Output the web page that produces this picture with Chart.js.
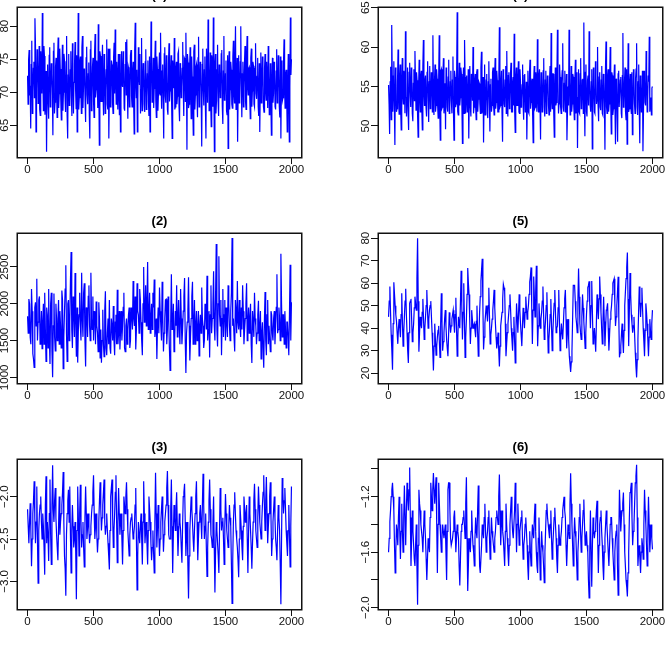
<!DOCTYPE html>
<html>
<head>
<meta charset="utf-8">
<script src="https://cdn.jsdelivr.net/npm/chart.js@4.4.1/dist/chart.umd.min.js"></script>
<style>
  html, body { margin: 0; padding: 0; background: #fff; width: 670px; height: 653px; overflow: hidden; position: relative; }
  canvas { position: absolute; }
</style>
</head>
<body>
<canvas id="c1" width="340" height="226"></canvas>
<canvas id="c2" width="340" height="226"></canvas>
<canvas id="c3" width="340" height="226"></canvas>
<canvas id="c4" width="340" height="226"></canvas>
<canvas id="c5" width="340" height="226"></canvas>
<canvas id="c6" width="340" height="226"></canvas>
<script>
// ---------------- DATA ----------------
const titles = ['(1)', '(2)', '(3)', '(4)', '(5)', '(6)'];
const xTicks = [0, 500, 1000, 1500, 2000];

// (1) — values read at iterations 0, 8, 16, ... 2000
const series1 = [
72.5,75,69.5,64.5,77.8,70.2,74.6,81.2,64,76.5,
68.3,77,66.5,73.8,82,67.2,75.5,69,61,74.2,
66,76.8,70.5,72.8,63.5,77.5,68.5,75.2,66.2,78.3,
69.8,73.5,65.8,77.2,70,74.8,67,78.5,63,75.8,
68.8,76.2,66.4,73.2,71.5,77.6,67.5,64,82,69.2,
75.4,66.8,78.5,70.8,72.6,65.5,76.9,68.2,74.5,63,
77.8,69.5,75.2,66.2,78.8,70.4,73.6,80.3,62,75.5,
68.6,77.2,66.5,74.4,70.2,78,67.4,63,76.6,69.8,
74.2,66.8,77.5,79.5,68.2,72.4,75.8,66.6,64,76.2,
70.8,74,67.2,77.6,78,66,73.4,70.5,76.4,67.8,
74.6,63.7,80.5,69.2,64,76.8,71.2,66.8,78.2,70,
73.6,67,76.5,69.4,74.8,66.4,64,80.7,68.5,75.2,
70.6,77.8,66.2,73.5,69.8,76,79,67.5,74.2,63,
76.8,68.4,73,66.6,77.4,70.2,75.6,63,72.8,78.2,
67.8,74.6,69.4,76.2,65.6,73.8,70.8,77.6,66.4,75,
79,61.3,74.5,68.2,76.8,66,72.4,63.5,77.2,69.6,
74.2,66.2,78.4,70.5,73.2,61.8,76.6,68,75.4,63,
72.6,81,67.2,76,64.8,74.4,81.3,61,75.8,68.8,
77.2,66.4,73.6,70,76.4,65.2,78.5,69.4,74.8,66.6,
61.5,76.2,70.4,73.4,67.6,77.8,68.4,80,72.2,62.5,
75.6,69,80,66.2,74.6,70.6,77,67.4,78.5,69.6,
73.8,66,76.6,70.2,74,67.8,77.4,69,75.2,66.4,
64,76,70.6,73.2,67,75.8,68.8,72.4,77,66.6,
74.4,63.5,75.2,69.8,72.8,67.4,76.5,70,73.6,66.2,
63,74.8,69.2,78,67.6,73.4,64,75.8,62.5,81.3,
75
];
// (1) — values read at iterations 4, 12, 20, ... 1996
const series1b = [
68.2,76.4,71,74.2,66.8,73.6,69.2,77.2,70.4,74.8,
71.6,67.4,76.2,69.8,72.4,77,66.6,73.2,70.6,68.4,
75.6,67.8,74.4,69.6,76.2,66.8,73.8,70.2,75.4,67.6,
76.6,68.8,72.2,67.2,75.8,69.4,74.6,66.4,72.6,68,
73.4,69.2,77.4,66.8,74.2,70.4,75.6,71.8,67.4,74.6,
70.2,76.8,67.6,73.6,68.8,75.2,69.6,72.8,66.6,76.4,
67.2,73.8,68.6,76,69.2,74.8,67.6,70.8,76.2,68.6,
74.2,69.6,75.8,66.8,73.4,68.2,76.6,70.2,67.8,74.8,
68.4,75.2,69.8,71.8,74.6,67.4,70.6,75.8,68.8,71.4,
76.2,67.6,74.2,69.6,71.2,73.8,67.8,75.6,69.4,73.2,
68.6,76.4,71.2,73.4,68.8,72.6,75.8,70.4,67.2,74.4,
68.2,74.6,67.4,72.8,68.6,75.4,70.2,73.6,71.8,67.6,
74.2,68.8,75.4,67.2,73.8,69.6,71.4,73.2,68.6,75.8,
69.4,75.6,67.4,74.4,68.6,73.2,68.2,74.8,70.6,67.4,
73.6,68.2,75.8,67.8,74.4,69.2,73.6,70.4,75.2,68.6,
72.6,75.8,67.6,73.4,70.2,75.4,68.2,76.2,67.4,73.8,
69.4,75.2,67.8,74.6,68.8,74.2,70.2,73.4,67.6,76.6,
68.4,74.8,70.6,68.4,75.6,67.8,70.6,74.2,66.8,73.4,
68.6,74.2,69.2,75.8,67.8,73.2,68.8,72.8,67.2,75.6,
73.8,67.4,74.6,68.2,75.4,69.8,74.2,67.4,75.2,69.6,
68.4,74.6,71.2,72.8,67.8,74.4,68.6,75.2,70.8,73.6,
69.4,75.2,67.8,74.6,68.2,73.6,69.8,72.4,67.8,74.4,
70.8,68.4,75.4,67.8,73.6,70.2,74.6,67.6,72.4,70.6,
68.8,71.6,68.4,74.6,67.8,73.2,68.4,75.6,67.8,75.4,
72.2,68.8,74.6,70.6,72.8,69.4,71.2,68.8,70.8,72.6
];

// (2) — values read at iterations 0, 10, 20, ... 2000
const series2 = [
1830,2065,1544,2200,1322,1136,2020,2341,1750,2100,
1600,1390,2000,2150,1217,1850,2200,1181,2150,1000,
2140,1360,1780,1800,1450,1700,2180,1118,1900,2523,
1217,2050,1750,2704,1400,1900,2418,1280,1200,1850,
1700,2420,1550,2280,1149,1900,2100,1700,2420,1650,
1500,1850,2030,1610,2020,1263,1200,1920,1280,2170,
1300,1800,2050,1320,1700,1970,1300,1850,2190,1600,
1380,1900,1700,2150,1350,1800,1650,1950,1500,1850,
2310,1700,1380,2280,1850,2200,1750,1300,2500,1900,
1700,2568,1850,1600,2000,2150,2330,1650,1250,1950,
2220,1700,2300,1350,1800,2060,1650,1800,1095,2400,
1700,1350,1900,2250,1800,1650,2200,1450,1900,2350,
1059,1750,2360,1230,1800,2300,1700,1450,1900,1650,
1290,1850,2220,1700,1500,1900,2380,1650,1270,2250,
1800,2441,1500,2813,1420,2645,1700,1300,2200,1850,
1500,1750,2250,1700,1900,2894,1800,1350,1900,2310,
1650,1700,1950,2250,1450,1800,2280,1750,1600,2000,
1195,1750,2150,1700,1600,2040,1650,1250,1750,1130,
2160,1300,2050,1700,1350,1850,1500,1900,1700,2400,
1650,1800,2681,1550,1850,1900,1400,1750,1300,2530,
2020
];
// (2) — values read at iterations 5, 15, ... 1995
const series2b = [
1600,2000,1450,1900,1250,1950,1700,1500,2050,1450,
1900,1750,1450,1650,1950,1400,1550,2000,1350,1700,
1550,2000,1500,2050,1900,1400,2050,1550,2200,1600,
2000,1500,2300,1650,2100,1550,1750,1950,1650,2150,
1500,1800,2150,1500,1950,1550,2250,1500,1800,2100,
1900,1450,1700,1350,1800,1650,1500,1450,1900,1400,
1600,1450,1400,1800,1500,1500,1750,1450,1450,1900,
1650,1500,1950,1400,1700,1450,1850,1400,1950,1650,
1800,2100,1650,1900,1600,2050,1500,2000,1750,2250,
2000,1650,2150,1800,1650,1950,1550,1800,1700,1600,
1900,1500,1800,1600,2050,1450,2100,1400,1750,1650,
2000,1500,1700,1550,2050,1450,1800,1650,2100,1500,
1600,1900,1700,1550,2100,1450,2050,1700,1500,1900,
1700,1600,1800,1400,2000,1650,1500,1900,1850,1600,
2000,1700,2100,1650,2000,1850,2050,1800,1550,2050,
1950,1550,2000,1500,2150,1700,1550,2050,1600,1750,
2050,1550,1650,1900,1650,2000,1500,1950,1800,1450,
1900,1550,1800,1450,1850,1500,1900,1600,1400,1750,
1500,1850,1450,1700,1900,1600,1800,1450,1950,1600,
1950,1500,2000,1850,1450,1650,1750,1550,1850,1500
];

// (3) — values read at iterations 0, 10, ... 2000
const series3 = [
-2.15,-2.55,-2.08,-2.82,-2.2,-1.82,-2.55,-1.88,-3.02,-2.2,
-2.0,-2.5,-2.35,-2.92,-1.76,-2.3,-2.76,-1.8,-2.8,-1.63,
-2.3,-1.9,-2.45,-2.75,-2.0,-2.3,-2.1,-1.71,-2.7,-3.17,
-2.2,-1.92,-1.88,-2.9,-2.1,-2.6,-2.3,-3.21,-1.88,-2.7,
-1.86,-2.6,-2.3,-2.83,-1.88,-2.5,-2.2,-2.55,-2.35,-2.1,
-1.75,-2.5,-2.2,-2.66,-2.3,-1.83,-2.4,-2.1,-1.8,-2.45,
-2.2,-2.55,-2.86,-2.0,-1.8,-2.6,-2.2,-1.75,-2.78,-1.9,
-2.45,-2.2,-2.8,-2.0,-2.2,-1.83,-2.4,-2.7,-2.3,-2.2,
-2.5,-2.35,-1.9,-3.1,-2.3,-2.55,-2.2,-2.8,-1.82,-2.55,
-2.3,-2.8,-2.0,-2.3,-2.75,-2.4,-2.9,-1.72,-2.6,-2.1,
-2.7,-2.3,-2.0,-2.65,-2.3,-2.1,-1.7,-2.45,-2.5,-1.8,
-2.9,-2.1,-2.4,-1.95,-2.7,-2.2,-2.4,-2.78,-2.0,-1.85,
-2.7,-2.3,-3.2,-2.4,-2.0,-2.3,-2.65,-2.2,-1.82,-2.75,
-2.3,-2.1,-2.5,-1.73,-2.5,-2.2,-2.94,-2.3,-1.8,-2.45,
-2.6,-2.0,-3.13,-2.3,-2.55,-2.9,-1.9,-2.4,-2.25,-2.8,
-1.97,-2.4,-2.6,-2.1,-2.35,-3.26,-2.3,-1.95,-2.4,-2.6,
-2.95,-2.1,-2.4,-2.75,-2.0,-2.3,-2.1,-2.9,-2.0,-2.4,
-2.85,-2.3,-1.85,-2.4,-2.6,-1.88,-2.3,-2.5,-2.1,-1.75,
-2.4,-1.77,-2.55,-2.2,-1.83,-2.7,-2.3,-2.0,-2.5,-2.75,
-2.1,-2.4,-3.27,-1.78,-2.2,-1.9,-2.4,-2.7,-2.1,-2.83,
-1.88
];
// (3) — values read at iterations 5, 15, ... 1995
const series3b = [
-2.35,-2.3,-2.4,-2.5,-2.05,-2.25,-2.3,-2.5,-2.4,-2.1,
-2.3,-2.2,-2.6,-2.1,-2.55,-2.45,-2.2,-2.45,-2.1,-2.15,
-2.05,-2.25,-2.6,-2.35,-2.45,-2.2,-1.95,-2.3,-2.85,-2.45,
-2.05,-2.3,-2.45,-2.4,-2.35,-2.5,-2.65,-2.4,-2.25,-2.2,
-2.3,-2.45,-2.6,-2.25,-2.2,-2.35,-2.4,-2.45,-2.2,-1.95,
-2.2,-2.35,-2.45,-2.5,-2.05,-2.15,-2.25,-1.95,-2.3,-2.35,
-2.4,-2.7,-2.4,-1.9,-2.25,-2.4,-1.95,-2.3,-2.3,-2.2,
-2.3,-2.5,-2.4,-2.1,-2.0,-2.15,-2.55,-2.45,-2.25,-2.35,
-2.45,-2.1,-2.5,-2.7,-2.45,-2.35,-2.5,-2.3,-2.2,-2.4,
-2.55,-2.4,-2.15,-2.55,-2.6,-2.65,-2.3,-2.2,-2.35,-2.45,
-2.5,-2.15,-2.35,-2.45,-2.2,-1.9,-2.1,-2.5,-2.15,-2.35,
-2.45,-2.25,-2.15,-2.35,-2.45,-2.3,-2.6,-2.35,-1.95,-2.3,
-2.45,-2.8,-2.7,-2.2,-2.15,-2.5,-2.4,-2.0,-2.3,-2.5,
-2.2,-2.3,-2.1,-2.1,-2.35,-2.6,-2.6,-2.05,-2.15,-2.5,
-2.3,-2.6,-2.65,-2.4,-2.7,-2.4,-2.15,-2.3,-2.5,-2.35,
-2.2,-2.5,-2.35,-2.25,-2.8,-2.75,-2.1,-2.2,-2.5,-2.75,
-2.5,-2.25,-2.6,-2.35,-2.15,-2.2,-2.5,-2.45,-2.2,-2.6,
-2.55,-2.05,-2.15,-2.5,-2.25,-2.1,-2.4,-2.3,-1.95,-2.1,
-2.05,-2.2,-2.35,-2.0,-2.25,-2.5,-2.15,-2.25,-2.6,-2.4,
-2.25,-2.8,-2.5,-1.95,-2.05,-2.15,-2.55,-2.4,-2.45,-2.35
];

// (4) — values read at iterations 0, 8, ... 2000
const series4 = [
55.2,49,57.5,62.8,51.8,58.2,47.6,56.4,52.2,59.7,
51.5,57.8,49.5,58.6,52.8,56.2,62,51.2,57.4,49.5,
58,52.4,56.8,50.6,57.2,59.5,52,55.8,48.6,58.4,
51.8,57,49.5,60.9,52.6,56.4,51.2,58.2,50.5,57.6,
53.2,55.6,61.5,51.4,57.8,52.6,56,51,61.5,48.2,
57.2,52.4,58.6,53,49.6,56.8,51.8,58.4,52.2,57,
51.6,58.8,48.2,56.2,52.8,64.4,51.4,58,53.6,56.6,
47.8,57.4,60.9,51.6,56.4,52.8,48.4,57.6,51.2,55.8,
60,52.4,56.6,50.8,57.2,53.4,55.4,51.6,59.4,52.6,
47.9,57.8,52.2,56.6,51,58.2,49.3,56,52.6,57.4,
51.4,58.6,53,55.8,51.8,62.5,52.6,57,48,56.4,
52.4,57.6,59.5,51.2,56.8,53.2,58,51.8,56.2,61.7,
49.2,57.4,52.6,58.2,51.6,55.6,53.4,57.8,50.8,56.6,
52.2,48.3,57,51.6,58.4,53,56,47.9,57.6,52.4,
55.4,61,51.8,57.2,48.3,56.4,52.8,58.6,51.2,57,
53.6,55.8,51.4,57.6,61.8,52.2,56.6,48.6,57.4,53,
62.2,51.6,57.8,52.4,55.6,60.5,51.8,57,52.6,48.2,
55,62.2,51.4,57.6,52.8,56.2,50.8,58.4,52,47.2,
57.2,51.6,58.6,52.4,56,63.1,48.7,57.8,51.2,56.4,
62,52.6,55.6,47.1,57.4,51.8,58.2,52.8,60,50.6,
56.8,52,57.6,51.4,55.8,47,60.7,51.6,57.2,52.8,
60,49,56.4,52.2,57.8,47.7,55.6,48,57,52.4,
56.2,51,61.8,52.6,57.4,50.8,47.7,60.5,52.2,56.6,
51.6,48.9,57.2,52.8,56,60.5,51.4,57.8,47.8,55.4,
52.6,46.8,57,53,59.5,51.8,56.4,61.3,52.6,51.4,
55
];
// (4) — values read at iterations 4, 12, ... 1996
const series4b = [
52.8,55.6,50.8,56.4,54.6,52.2,57.4,51.8,55.6,53.6,
56.2,52,55.4,53.8,57,51.6,55.8,53.6,51.8,56.8,
54.2,57.4,51.6,55.4,53.2,55.8,56.8,51.4,55.2,53.4,
56.4,52.2,57.6,54.2,55.8,52.4,56.8,53.6,55.6,52.2,
56.8,51.8,54.8,55.6,51.8,57.2,52.6,56.4,52.6,57,
52.2,56.6,51.6,55.4,57.4,52.4,56.2,51.6,55.6,53.2,
55.8,51.6,57,52.4,56.6,51.8,55.2,52.6,57.4,52.4,
55.6,51.6,56.2,53.8,51.8,57.2,53.8,52.4,56.6,53.2,
51.6,55.8,52.4,56.8,51.8,55.6,52.8,57.4,51.6,56.2,
53.6,51.4,55.8,51.6,55.6,53.4,55.2,51.8,56.8,52.6,
56.4,52.2,57,51.8,56.6,52.4,55.6,51.6,57.2,52.8,
55.8,51.6,53.8,56.4,52.2,56.6,51.8,55.4,52.6,51.8,
56.2,52.6,55.8,51.8,57.2,52.4,55.2,52.6,56.4,51.8,
55.6,53.2,51.8,56.6,52.2,55.6,51.4,55.8,52.2,56.8,
51.8,53.6,56.4,52.6,56.8,51.8,57,52.4,55.8,51.6,
56.4,52.6,55.8,51.8,53.4,56.6,51.6,54.6,52.6,56.6,
55.6,52.8,56.2,51.6,57,52.4,55.4,51.8,56.6,51.8,
52.6,55.6,53.6,51.8,56.6,52.4,55.8,51.6,56.8,53.6,
51.8,56.6,52.2,55.8,51.6,53.6,56.8,51.8,55.8,52.6,
55.4,51.8,57.2,52.4,55.2,51.6,56.2,53.4,52.6,56.2,
52.4,55.8,51.6,56.6,52.6,57.2,52.4,56.2,51.8,56.4,
52.8,56.8,51.4,55.8,52.2,56,51.6,56.6,52.4,55.8,
51.6,56.4,52.4,55.6,51.8,57.2,53.8,51.8,55.6,52.4,
56.8,52.4,55.8,51.6,57.2,52.4,55.6,52.2,56.4,51.8,
57,51.6,55.8,52.6,56.2,53.2,55.6,51.8,53.6,54.8
];

// (5) — values read at iterations 0, 10, ... 2000
const series5 = [
45,58.5,37,21.5,60.4,50,43,33,44,36,
55.5,32,45,57.5,38,24.5,51,53,34,42,
54,48,80,29.5,45,40,53,35,45,57,
40,48,52,38,21.2,42,28,36,41,27,
55.5,30,38,48,35,27.5,47,38,44,48,
38,53.5,27.5,45,40,65.5,35,60,27,44,
66.7,55,33,48,40,42,36,50,27.5,47,
61,70.8,30.5,42,50,43,58,33,40,48,
57,42,31,38,23,41,47,59.5,56.5,27.5,
38,46,55,40,30,45,24.5,51,38,55,
42,32,49,40,54,44,50,60.5,67,33,
63,45,67.7,32,51,40,47,58.5,35,44,
56,29,40,53,30,45,57,38,41,57,
30,42,35,49,57,31,44,27.5,20.5,29.5,
59,59,45,38,66.5,42,35,55,43,31,
46,58,60.8,40,61,33,40,29.5,55,44,
63,47,33,54,32,48,51,30,44,50,
60,62,41,50,62.8,27,32,42,29,50,
62,73.6,32,64.5,46,38,45,29,18.1,35,
58.5,45,58,40,27.5,51,42,27.5,44,35,
48
];
// (5) — values read at iterations 5, 15, ... 1995
const series5b = [
52,47,30,42,55,46,38,40,40,46,
43,38,52,46,30,38,52,44,38,49,
51,62,52,38,42,47,44,40,50,48,
44,50,45,30,32,35,32,39,34,42,
42,34,44,41,31,37,43,41,46,43,
46,40,36,42,52,50,47,44,36,55,
60,44,40,44,41,39,43,38,37,54,
66,50,36,46,47,50,45,37,44,52,
49,36,34,30,32,44,53,58,42,33,
42,50,48,35,38,35,37,45,46,48,
37,41,45,47,49,47,55,63,50,48,
54,56,50,41,45,44,52,46,39,50,
42,35,46,41,38,51,47,40,49,43,
36,38,42,53,44,38,35,24,25,44,
59,52,42,52,54,38,45,49,37,38,
52,59,50,50,47,37,35,42,49,53,
55,40,43,43,40,49,40,37,47,55,
61,51,45,56,45,29,37,35,39,56,
67,53,48,55,42,41,37,23,26,47,
52,51,49,34,39,47,35,36,39,42
];

// (6) — values read at iterations 0, 10, ... 2000
const series6 = [
-1.6,-1.38,-1.2,-1.1,-1.3,-1.75,-1.4,-1.55,-1.2,-1.65,
-1.25,-1.6,-1.12,-1.55,-1.1,-1.3,-0.99,-1.7,-1.3,-1.55,
-1.7,-1.4,-1.98,-1.15,-1.3,-1.45,-1.6,-1.3,-1.5,-1.8,
-1.5,-1.6,-1.1,-1.3,-1.03,-1.25,-1.06,-1.75,-1.1,-1.4,
-1.6,-1.4,-1.5,-1.4,-1.8,-1.15,-1.1,-1.5,-1.55,-1.45,
-1.3,-1.6,-1.4,-1.5,-1.84,-1.45,-1.4,-1.3,-1.5,-1.06,
-1.88,-1.5,-1.6,-1.3,-1.55,-1.7,-1.35,-1.5,-1.12,-1.7,
-1.75,-1.4,-1.5,-1.25,-1.6,-1.45,-1.3,-1.65,-1.35,-1.5,
-1.6,-1.45,-1.3,-1.4,-1.04,-1.55,-1.3,-1.5,-1.7,-1.25,
-1.5,-1.7,-1.4,-1.2,-1.45,-1.5,-1.1,-1.6,-1.25,-1.55,
-1.4,-1.3,-1.65,-1.5,-1.35,-1.55,-1.8,-1.45,-1.7,-1.4,
-1.5,-1.25,-1.6,-1.75,-1.35,-1.8,-1.45,-1.6,-1.82,-1.45,
-1.25,-1.4,-1.5,-1.3,-1.65,-1.45,-1.28,-1.5,-1.75,-1.4,
-1.55,-1.45,-1.3,-1.2,-1.35,-1.7,-1.4,-1.5,-1.03,-1.4,
-1.7,-1.35,-1.5,-1.8,-1.5,-1.25,-1.6,-1.4,-1.22,-1.55,
-1.45,-1.6,-1.93,-1.3,-1.85,-1.35,-1.5,-1.4,-1.23,-1.75,
-1.4,-1.3,-1.55,-1.8,-1.5,-1.3,-1.5,-1.7,-1.4,-1.35,
-1.6,-1.8,-1.5,-1.4,-1.91,-1.15,-1.45,-1.3,-1.17,-1.6,
-1.8,-1.92,-1.6,-1.17,-1.1,-1.55,-1.4,-1.1,-0.97,-1.7,
-1.55,-1.75,-1.5,-1.65,-1.15,-1.4,-1.7,-1.2,-1.6,-1.4,
-1.58
];
// (6) — values read at iterations 5, 15, ... 1995
const series6b = [
-1.5,-1.3,-1.15,-1.2,-1.55,-1.6,-1.45,-1.35,-1.45,-1.45,
-1.45,-1.35,-1.35,-1.3,-1.2,-1.15,-1.35,-1.5,-1.45,-1.65,
-1.55,-1.7,-1.55,-1.25,-1.4,-1.5,-1.45,-1.4,-1.65,-1.65,
-1.55,-1.35,-1.2,-1.15,-1.15,-1.15,-1.4,-1.4,-1.25,-1.5,
-1.5,-1.45,-1.45,-1.6,-1.45,-1.1,-1.3,-1.55,-1.5,-1.35,
-1.45,-1.5,-1.45,-1.7,-1.65,-1.4,-1.35,-1.4,-1.25,-1.5,
-1.7,-1.55,-1.45,-1.45,-1.6,-1.5,-1.45,-1.3,-1.4,-1.75,
-1.55,-1.45,-1.35,-1.45,-1.5,-1.35,-1.5,-1.5,-1.45,-1.55,
-1.5,-1.35,-1.35,-1.2,-1.3,-1.4,-1.45,-1.6,-1.45,-1.4,
-1.6,-1.55,-1.3,-1.35,-1.5,-1.3,-1.35,-1.4,-1.4,-1.45,
-1.35,-1.5,-1.55,-1.4,-1.45,-1.7,-1.6,-1.6,-1.55,-1.45,
-1.35,-1.45,-1.7,-1.5,-1.6,-1.6,-1.55,-1.7,-1.6,-1.3,
-1.35,-1.45,-1.4,-1.5,-1.55,-1.35,-1.4,-1.65,-1.55,-1.5,
-1.5,-1.35,-1.25,-1.3,-1.55,-1.55,-1.45,-1.25,-1.25,-1.55,
-1.5,-1.45,-1.65,-1.6,-1.35,-1.45,-1.5,-1.3,-1.4,-1.5,
-1.55,-1.8,-1.6,-1.6,-1.55,-1.45,-1.45,-1.3,-1.5,-1.55,
-1.35,-1.45,-1.7,-1.6,-1.4,-1.4,-1.6,-1.55,-1.35,-1.5,
-1.7,-1.6,-1.45,-1.7,-1.5,-1.3,-1.35,-1.25,-1.4,-1.7,
-1.85,-1.75,-1.35,-1.15,-1.35,-1.45,-1.25,-1.05,-1.35,-1.6,
-1.65,-1.6,-1.55,-1.4,-1.3,-1.55,-1.45,-1.4,-1.5,-1.5
];

// y-axis tick values and their printed labels (R drops overlapping ones)
const yTicks1 = [65, 70, 75, 80];
const yLabels1 = ['65', '70', '75', '80'];
const yTicks2 = [1000, 1500, 2000, 2500];
const yLabels2 = ['1000', '1500', '2000', '2500'];
const yTicks3 = [-3.0, -2.5, -2.0];
const yLabels3 = ['\u22123.0', '\u22122.5', '\u22122.0'];
const yTicks4 = [50, 55, 60, 65];
const yLabels4 = ['50', '55', '60', '65'];
const yTicks5 = [20, 30, 40, 50, 60, 70, 80];
const yLabels5 = ['20', '30', '40', '50', '60', '70', '80'];
const yTicks6 = [-2.0, -1.8, -1.6, -1.4, -1.2, -1.0];
const yLabels6 = ['\u22122.0', '', '\u22121.6', '', '\u22121.2', ''];

// merge the two readings of each series in iteration order
function merge(a, b) {
  const out = [];
  a.forEach((v, i) => { out.push(v); if (i < b.length) out.push(b[i]); });
  return out;
}

// ---------------- LAYOUT / STYLE ----------------
const FONT = '"Liberation Sans", Arial, Helvetica, sans-serif';
const TICK_SIZE = 11.5;
const panels = [
  { id: 'c1', title: titles[0], data: merge(series1, series1b), lw: 1.2, yMin: 60.2,  yMax: 82.9,  yTicks: yTicks1, yLabels: yLabels1, left: -28, top: -33 },
  { id: 'c2', title: titles[1], data: merge(series2, series2b), lw: 1.2, yMin: 923,   yMax: 2962,  yTicks: yTicks2, yLabels: yLabels2, left: -28, top: 193 },
  { id: 'c3', title: titles[2], data: merge(series3, series3b), lw: 1.2, yMin: -3.325, yMax: -1.557, yTicks: yTicks3, yLabels: yLabels3, left: -28, top: 419 },
  { id: 'c4', title: titles[3], data: merge(series4, series4b), lw: 1.2, yMin: 46.07, yMax: 65.08, yTicks: yTicks4, yLabels: yLabels4, left: 333, top: -33 },
  { id: 'c5', title: titles[4], data: merge(series5, series5b), lw: 1.2, yMin: 15.6,  yMax: 82.3,  yTicks: yTicks5, yLabels: yLabels5, left: 333, top: 193 },
  { id: 'c6', title: titles[5], data: merge(series6, series6b), lw: 1.2, yMin: -2.01, yMax: -0.928, yTicks: yTicks6, yLabels: yLabels6, left: 333, top: 419 }
];

const measureCtx = document.createElement('canvas').getContext('2d');
measureCtx.font = TICK_SIZE + 'px ' + FONT;

const boxPlugin = {
  id: 'rbox',
  afterDraw(chart) {
    const { ctx, chartArea: a } = chart;
    ctx.save();
    ctx.strokeStyle = '#111';
    ctx.lineWidth = 1.5;
    ctx.strokeRect(a.left + 0.25, a.top + 0.25, a.right - a.left - 0.5, a.bottom - a.top + 0.5);
    ctx.restore();
  }
};

panels.forEach(p => {
  const cv = document.getElementById(p.id);
  cv.style.left = p.left + 'px';
  cv.style.top = p.top + 'px';
  const widest = Math.max(...p.yLabels.map(l => measureCtx.measureText(l).width));
  const yPad = 12.5 - 7 - widest / 2;
  const pts = p.data.map((v, i) => ({ x: i * 2000 / (p.data.length - 1), y: v }));
  new Chart(cv.getContext('2d'), {
    type: 'line',
    data: {
      datasets: [{
        data: pts,
        borderColor: '#0000ff',
        borderWidth: p.lw,
        pointRadius: 0,
        tension: 0,
        fill: false
      }]
    },
    options: {
      animation: false,
      responsive: false,
      devicePixelRatio: 1,
      events: [],
      layout: { padding: { left: 0, right: 10, top: 0, bottom: 0 } },
      plugins: {
        legend: { display: false },
        tooltip: { enabled: false },
        title: {
          display: true,
          text: p.title,
          fullSize: false,
          color: '#000',
          font: { family: FONT, size: 13, weight: 'bold', lineHeight: 1.2 },
          padding: { top: 20.6, bottom: 3.8 }
        }
      },
      scales: {
        x: {
          type: 'linear',
          min: -80,
          max: 2080,
          afterBuildTicks: s => { s.ticks = xTicks.map(v => ({ value: v })); },
          afterFit: s => { s.height = 36; },
          grid: { display: true, drawOnChartArea: false, drawTicks: true, tickLength: 7, color: '#111', lineWidth: 1 },
          border: { display: false },
          ticks: {
            color: '#111',
            font: { family: FONT, size: TICK_SIZE },
            padding: -1,
            maxRotation: 0,
            autoSkip: false,
            callback: v => String(v)
          }
        },
        y: {
          type: 'linear',
          min: p.yMin,
          max: p.yMax,
          afterBuildTicks: s => { s.ticks = p.yTicks.map(v => ({ value: v })); },
          afterFit: s => { s.width = 45; },
          grid: { display: true, drawOnChartArea: false, drawTicks: true, tickLength: 7, color: '#111', lineWidth: 1 },
          border: { display: false },
          ticks: {
            color: '#111',
            font: { family: FONT, size: TICK_SIZE },
            minRotation: 90,
            maxRotation: 90,
            crossAlign: 'center',
            padding: yPad,
            autoSkip: false,
            callback: (v, i) => p.yLabels[i]
          }
        }
      }
    },
    plugins: [boxPlugin]
  });
});
</script>
</body>
</html>
